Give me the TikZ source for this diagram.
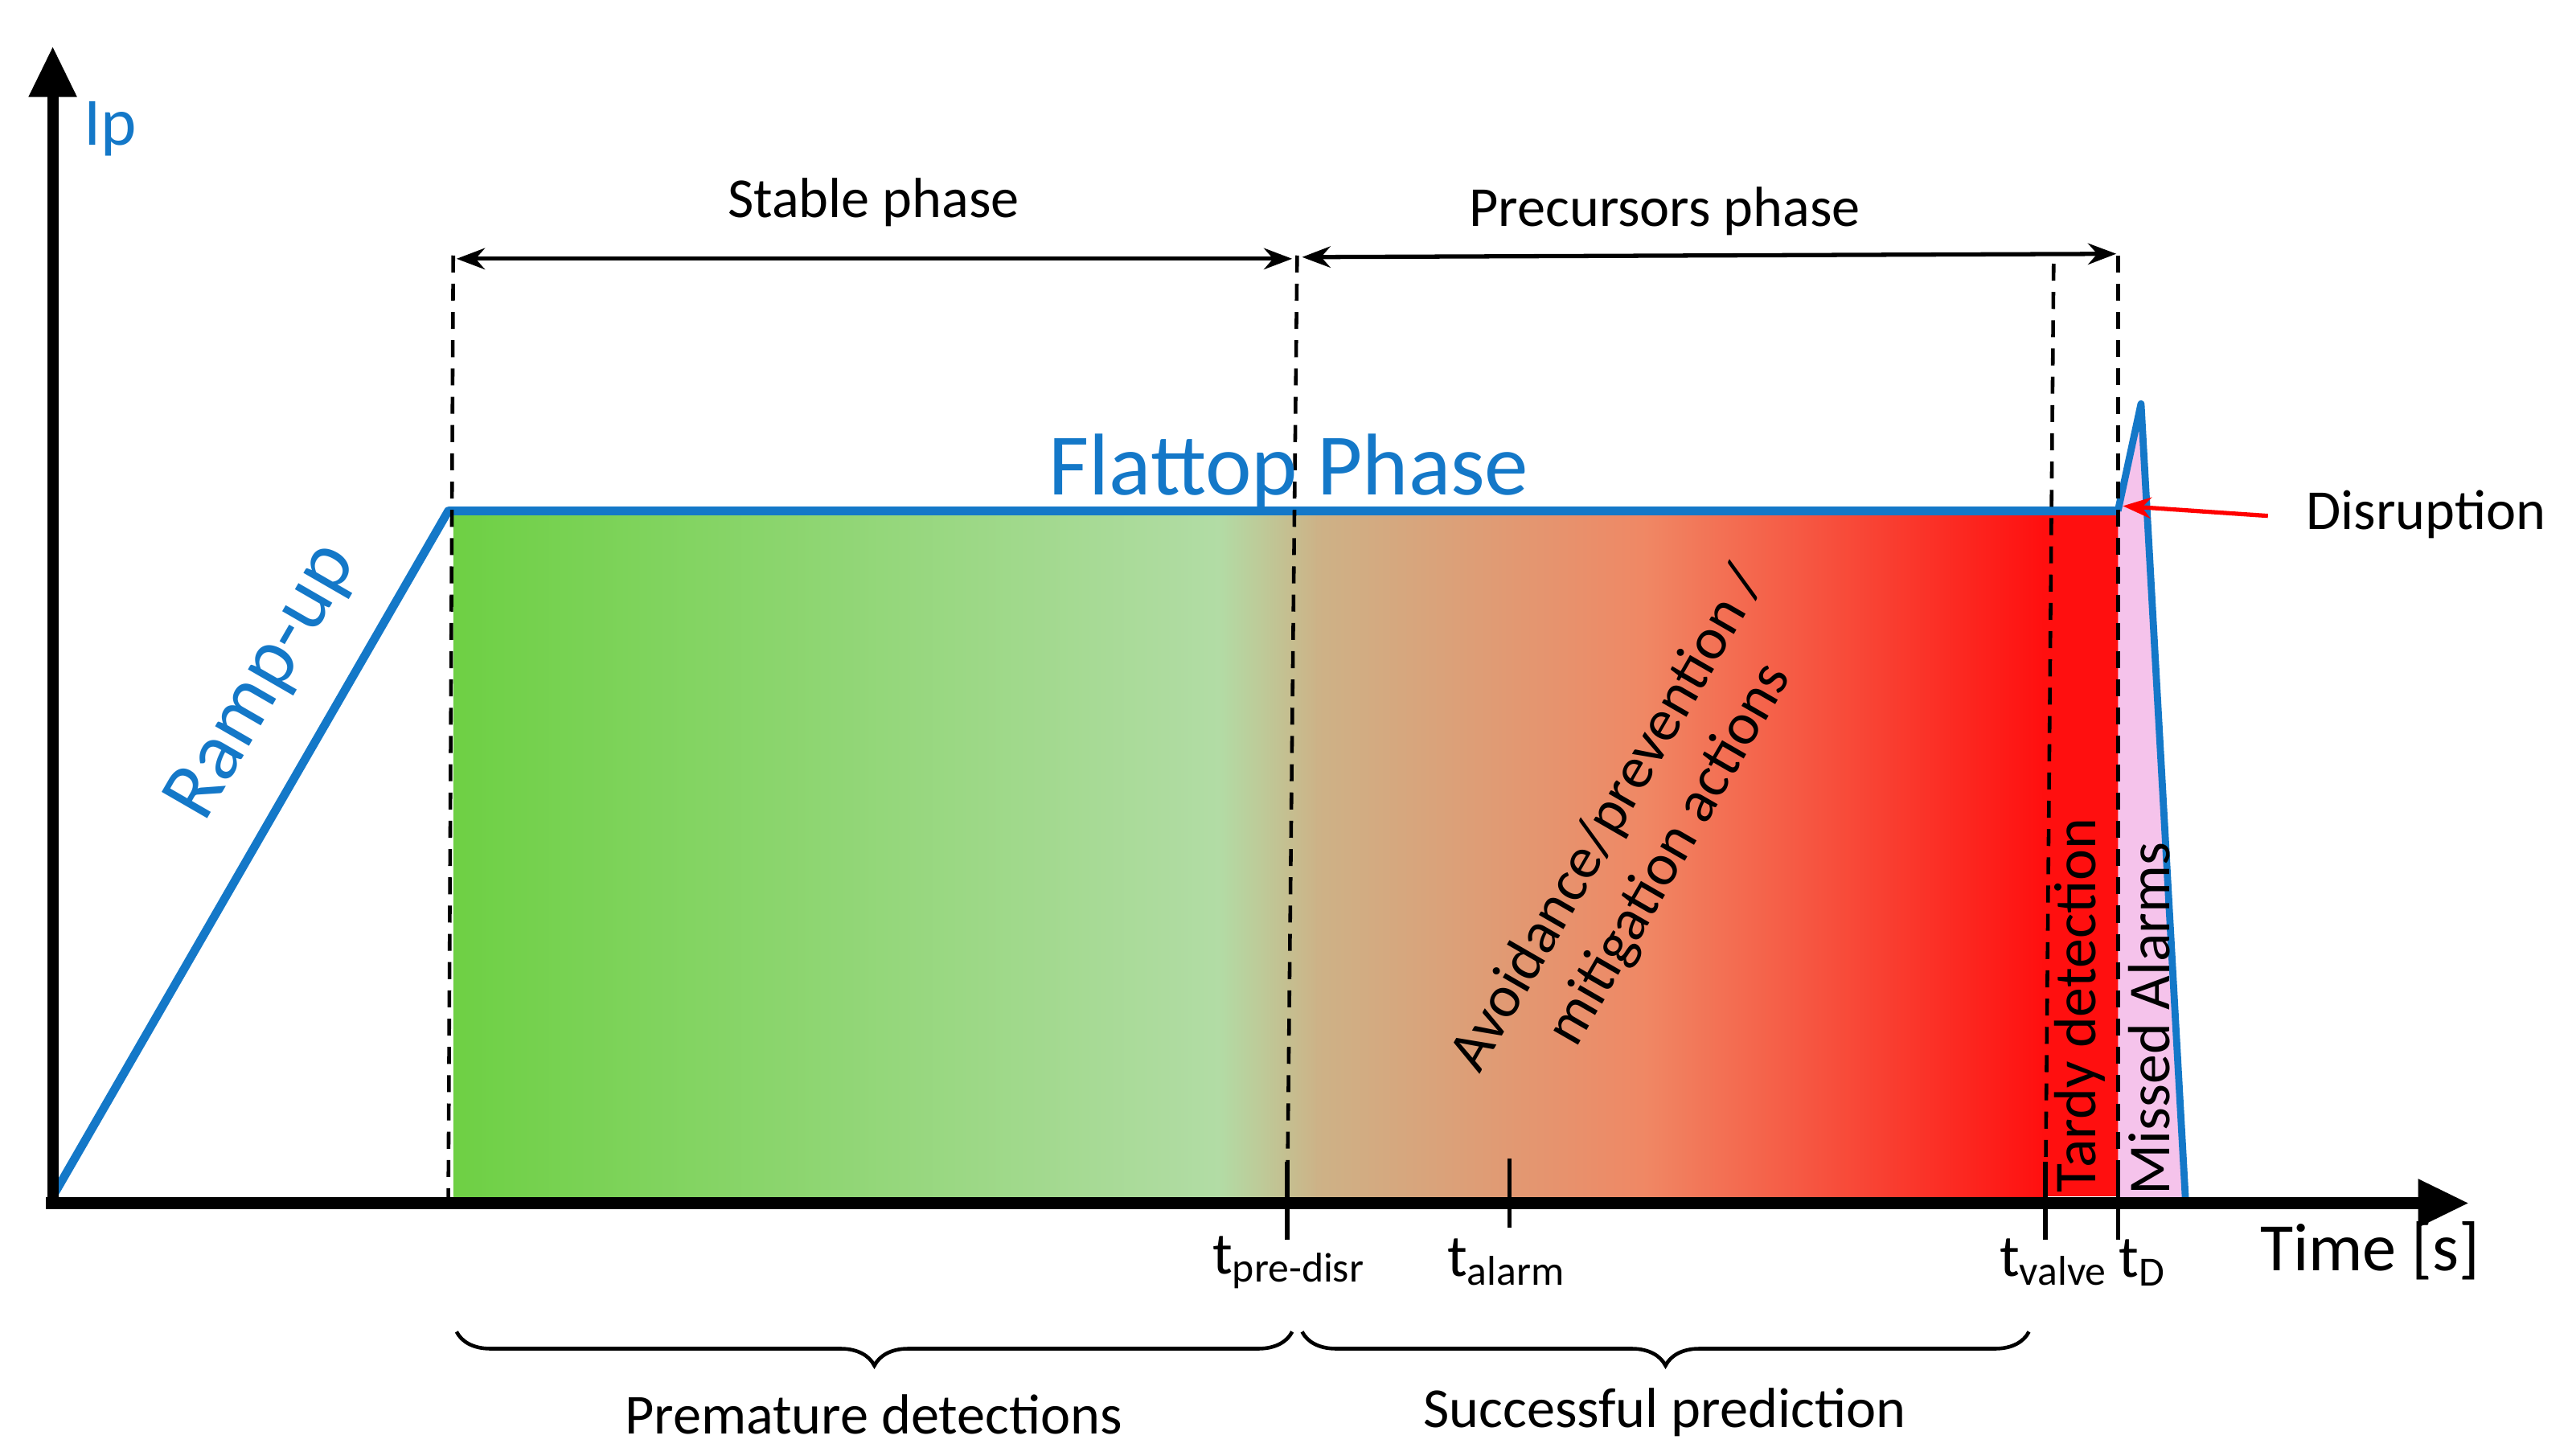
\documentclass[tikz,border=0pt]{standalone}
\usepackage{fontspec}
\setmainfont{Carlito}
\usetikzlibrary{arrows.meta,decorations.pathreplacing}
\definecolor{bl}{RGB}{20,120,200}
\definecolor{g1}{RGB}{110,208,68}
\definecolor{g2}{RGB}{178,220,165}
\definecolor{g3}{RGB}{205,178,135}
\definecolor{g4}{RGB}{240,135,100}
\definecolor{g5}{RGB}{255,15,15}
\definecolor{pk}{RGB}{245,195,235}
\tikzset{dsh/.style={dash pattern=on 6pt off 4pt,line width=1.3pt},
 dim/.style={{Stealth[length=10pt]}-{Stealth[length=10pt]},line width=1.5pt},
 lab/.style={font=\fontsize{20}{24}\selectfont},
 brc/.style={decorate,decoration={brace,mirror,amplitude=12pt},line width=1.3pt}}
\begin{document}
\begin{tikzpicture}[x=0.0205cm,y=-0.0205cm]
\useasboundingbox (0,0) rectangle (1560.5,883.4);
% gradient fill
\fill[left color=g1,right color=g2,draw=none] (275,312) rectangle (740,726);
\fill[left color=g2,right color=g3,draw=none] (739,312) rectangle (800,726);
\fill[left color=g3,right color=g4,draw=none] (799,312) rectangle (1000,726);
\fill[left color=g4,right color=g5,draw=none] (999,312) rectangle (1240,726);
\fill[g5] (1239,312) rectangle (1287,726);
% spike
\coordinate (f1) at (1285,310);
\coordinate (sp) at (1299,245);
\coordinate (sb) at (1326,728);
\fill[pk] (f1) -- (sp) -- (sb) -- (1285,728) -- cycle;
\draw[bl,line width=2.5pt,line join=round] (f1) -- (sp) -- (sb);
% ramp and flattop
\coordinate (o) at (32,726);
\coordinate (r) at (272,310);
\draw[bl,line width=3pt,line join=round] (o) -- (r) -- (f1);
% axes
\draw[line width=4pt,-{Triangle[length=18pt,width=16pt]}] (32,732) -- (32,28);
\draw[line width=4pt,-{Triangle[length=18pt,width=16pt]}] (28,730) -- (1498,730);
% dashed lines
\draw[dsh] (275,155) -- (272,728);
\draw[dsh] (787,155) -- (781,728);
\draw[dsh] (1246,160) -- (1241,728);
\draw[dsh] (1285,155) -- (1285,728);
% phase arrows
\coordinate (a1) at (277,157); \coordinate (a2) at (784,157);
\coordinate (a3) at (790,156); \coordinate (a4) at (1284,154);
\draw[dim] (a1) -- (a2);
\draw[dim] (a3) -- (a4);
\node[lab] (stab) at (530,123) {Stable phase};
\node[lab] (prec) at (1010,128) {Precursors phase};
% labels
\node[bl,font=\fontsize{31}{36}\selectfont] (flat) at (782,286) {Flattop Phase};
\node[bl,font=\fontsize{24}{30}\selectfont] (ip) at (67,78) {Ip};
\node[bl,font=\fontsize{29}{34}\selectfont,rotate=60] (ramp) at (160,414) {Ramp-up};
\node[font=\fontsize{20}{24}\selectfont] (dis) at (1472,312) {Disruption};
\coordinate (dt) at (1376,313);
\draw[red,line width=1.5pt,-{Stealth[length=10pt]}] (dt) -- (1288,307);
\node[rotate=60,align=center,font=\fontsize{21}{25}\selectfont] (av) at (995,508) {Avoidance/prevention /\\mitigation actions};
\node[rotate=90,font=\fontsize{21}{25}\selectfont] (td) at (1262,610) {Tardy detection};
\node[rotate=90,font=\fontsize{21}{25}\selectfont] (ma) at (1304,618) {Missed Alarms};
% ticks
\draw[line width=1.5pt] (781,705) -- (781,752);
\draw[line width=1.5pt] (916,703) -- (916,745);
\draw[line width=1.5pt] (1241,705) -- (1241,752);
\draw[line width=1.5pt] (1285,705) -- (1285,752);
\node[font=\fontsize{21}{25}\selectfont] (tp) at (782,766) {t\textsubscript{pre-disr}};
\node[font=\fontsize{21}{25}\selectfont] (ta) at (914,766) {t\textsubscript{alarm}};
\node[font=\fontsize{21}{25}\selectfont] (tv) at (1246,766) {t\textsubscript{valve}};
\node[font=\fontsize{21}{25}\selectfont] (tdd) at (1300,766) {t\textsubscript{D}};
\node[font=\fontsize{24}{28}\selectfont] (time) at (1438,759) {Time [s]};
% braces
\draw[brc] (277,808) -- (784,808);
\draw[brc] (790,808) -- (1231,808);
\node[lab] (pre) at (530,858) {Premature detections};
\node[lab] (suc) at (1010,857) {Successful prediction};
\end{tikzpicture}
\end{document}
